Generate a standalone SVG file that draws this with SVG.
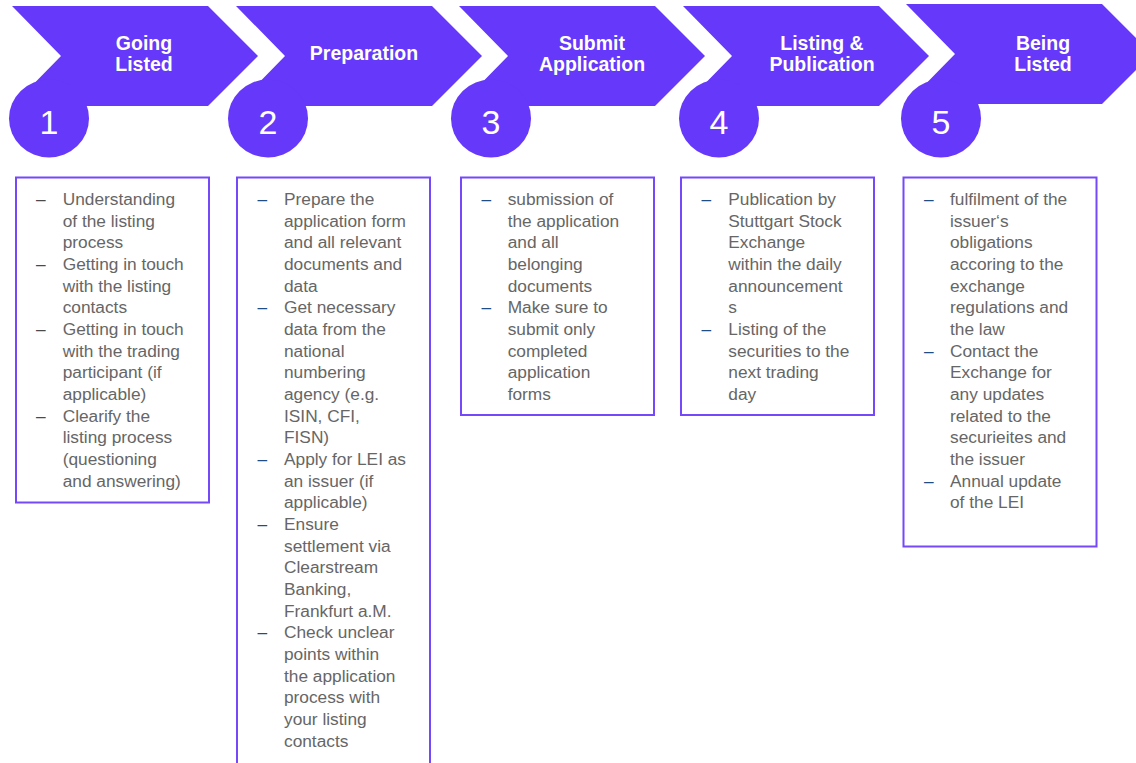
<svg xmlns="http://www.w3.org/2000/svg" width="1136" height="763" viewBox="0 0 1136 763">
<style>
.chev{fill:#6538FA}
.circ{fill:#6538FA}
.ttl{font-family:"Liberation Sans",Arial,sans-serif;font-weight:bold;font-size:19.5px;fill:#ffffff;text-anchor:middle}
.num{font-family:"Liberation Sans",Arial,sans-serif;font-size:34px;fill:#ffffff;text-anchor:middle}
.box{fill:#ffffff;stroke:#7549FA;stroke-width:2}
.txt{font-family:"Liberation Sans",Arial,sans-serif;font-size:17.3px;fill:#666666}
.dash{font-family:"Liberation Sans",Arial,sans-serif;font-size:17.3px;fill:#1F4E85}
.dash1{font-family:"Liberation Sans",Arial,sans-serif;font-size:17.3px;fill:#4a4a4a}
</style>
<rect width="1136" height="763" fill="#ffffff"/>
<g id="connectors"></g>

<g id="step1">
<polygon class="chev" points="12,6 208,6 258,56 208,106 12,106 61,56"/>
<ellipse class="circ" cx="49" cy="118.5" rx="40" ry="39"/>
<text class="num" x="49" y="133.5">1</text>
<text class="ttl" x="144" y="50">Going</text>
<text class="ttl" x="144" y="71">Listed</text>
</g>
<g id="step2">
<polygon class="chev" points="236,6 432,6 482,56 432,106 236,106 285,56"/>
<ellipse class="circ" cx="268" cy="118.5" rx="40" ry="39"/>
<text class="num" x="268" y="133.5">2</text>
<text class="ttl" x="364" y="60">Preparation</text>
</g>
<g id="step3">
<polygon class="chev" points="459,6 655,6 705,56 655,106 459,106 508,56"/>
<ellipse class="circ" cx="491" cy="118.5" rx="40" ry="39"/>
<text class="num" x="491" y="133.5">3</text>
<text class="ttl" x="592" y="50">Submit</text>
<text class="ttl" x="592" y="71">Application</text>
</g>
<g id="step4">
<polygon class="chev" points="683,6 879,6 929,56 879,106 683,106 732,56"/>
<ellipse class="circ" cx="719" cy="118.5" rx="40" ry="39"/>
<text class="num" x="719" y="133.5">4</text>
<text class="ttl" x="822" y="50">Listing &amp;</text>
<text class="ttl" x="822" y="71">Publication</text>
</g>
<g id="step5">
<polygon class="chev" points="906,4 1102,4 1152,54 1102,104 906,104 955,54"/>
<ellipse class="circ" cx="941" cy="118.5" rx="40" ry="39"/>
<text class="num" x="941" y="133.5">5</text>
<text class="ttl" x="1043" y="50">Being</text>
<text class="ttl" x="1043" y="71">Listed</text>
</g>

<g id="box1">
<rect class="box" x="16" y="177.5" width="193" height="325"/>
<text class="dash1" x="36" y="205">–</text>
<text class="dash1" x="36" y="270">–</text>
<text class="dash1" x="36" y="335">–</text>
<text class="dash1" x="36" y="421.7">–</text>
<text class="txt" x="62.7" y="205">Understanding</text>
<text class="txt" x="62.7" y="226.7">of the listing</text>
<text class="txt" x="62.7" y="248.3">process</text>
<text class="txt" x="62.7" y="270">Getting in touch</text>
<text class="txt" x="62.7" y="291.7">with the listing</text>
<text class="txt" x="62.7" y="313.3">contacts</text>
<text class="txt" x="62.7" y="335">Getting in touch</text>
<text class="txt" x="62.7" y="356.7">with the trading</text>
<text class="txt" x="62.7" y="378.3">participant (if</text>
<text class="txt" x="62.7" y="400">applicable)</text>
<text class="txt" x="62.7" y="421.7">Clearify the</text>
<text class="txt" x="62.7" y="443.3">listing process</text>
<text class="txt" x="62.7" y="465">(questioning</text>
<text class="txt" x="62.7" y="486.7">and answering)</text>
</g>

<g id="box2">
<rect class="box" x="237" y="177.5" width="193" height="600"/>
<text class="dash" x="257.5" y="205">–</text>
<text class="dash" x="257.5" y="313.3">–</text>
<text class="dash" x="257.5" y="465">–</text>
<text class="dash" x="257.5" y="530">–</text>
<text class="dash" x="257.5" y="638.3">–</text>
<text class="txt" x="284" y="205">Prepare the</text>
<text class="txt" x="284" y="226.7">application form</text>
<text class="txt" x="284" y="248.3">and all relevant</text>
<text class="txt" x="284" y="270">documents and</text>
<text class="txt" x="284" y="291.7">data</text>
<text class="txt" x="284" y="313.3">Get necessary</text>
<text class="txt" x="284" y="335">data from the</text>
<text class="txt" x="284" y="356.7">national</text>
<text class="txt" x="284" y="378.3">numbering</text>
<text class="txt" x="284" y="400">agency (e.g.</text>
<text class="txt" x="284" y="421.7">ISIN, CFI,</text>
<text class="txt" x="284" y="443.3">FISN)</text>
<text class="txt" x="284" y="465">Apply for LEI as</text>
<text class="txt" x="284" y="486.7">an issuer (if</text>
<text class="txt" x="284" y="508.3">applicable)</text>
<text class="txt" x="284" y="530">Ensure</text>
<text class="txt" x="284" y="551.7">settlement via</text>
<text class="txt" x="284" y="573.3">Clearstream</text>
<text class="txt" x="284" y="595">Banking,</text>
<text class="txt" x="284" y="616.7">Frankfurt a.M.</text>
<text class="txt" x="284" y="638.3">Check unclear</text>
<text class="txt" x="284" y="660">points within</text>
<text class="txt" x="284" y="681.7">the application</text>
<text class="txt" x="284" y="703.3">process with</text>
<text class="txt" x="284" y="725">your listing</text>
<text class="txt" x="284" y="746.7">contacts</text>
</g>

<g id="box3">
<rect class="box" x="461" y="177.5" width="193" height="237.5"/>
<text class="dash" x="481.5" y="205">–</text>
<text class="dash" x="481.5" y="313.3">–</text>
<text class="txt" x="507.7" y="205">submission of</text>
<text class="txt" x="507.7" y="226.7">the application</text>
<text class="txt" x="507.7" y="248.3">and all</text>
<text class="txt" x="507.7" y="270">belonging</text>
<text class="txt" x="507.7" y="291.7">documents</text>
<text class="txt" x="507.7" y="313.3">Make sure to</text>
<text class="txt" x="507.7" y="335">submit only</text>
<text class="txt" x="507.7" y="356.7">completed</text>
<text class="txt" x="507.7" y="378.3">application</text>
<text class="txt" x="507.7" y="400">forms</text>
</g>

<g id="box4">
<rect class="box" x="681" y="177.5" width="193" height="237.5"/>
<text class="dash" x="701.5" y="205">–</text>
<text class="dash" x="701.5" y="335">–</text>
<text class="txt" x="728.3" y="205">Publication by</text>
<text class="txt" x="728.3" y="226.7">Stuttgart Stock</text>
<text class="txt" x="728.3" y="248.3">Exchange</text>
<text class="txt" x="728.3" y="270">within the daily</text>
<text class="txt" x="728.3" y="291.7">announcement</text>
<text class="txt" x="728.3" y="313.3">s</text>
<text class="txt" x="728.3" y="335">Listing of the</text>
<text class="txt" x="728.3" y="356.7">securities to the</text>
<text class="txt" x="728.3" y="378.3">next trading</text>
<text class="txt" x="728.3" y="400">day</text>
</g>

<g id="box5">
<rect class="box" x="903.5" y="177.5" width="193" height="369"/>
<text class="dash" x="924" y="205">–</text>
<text class="dash" x="924" y="356.7">–</text>
<text class="dash" x="924" y="486.7">–</text>
<text class="txt" x="950" y="205">fulfilment of the</text>
<text class="txt" x="950" y="226.7">issuer‘s</text>
<text class="txt" x="950" y="248.3">obligations</text>
<text class="txt" x="950" y="270">accoring to the</text>
<text class="txt" x="950" y="291.7">exchange</text>
<text class="txt" x="950" y="313.3">regulations and</text>
<text class="txt" x="950" y="335">the law</text>
<text class="txt" x="950" y="356.7">Contact the</text>
<text class="txt" x="950" y="378.3">Exchange for</text>
<text class="txt" x="950" y="400">any updates</text>
<text class="txt" x="950" y="421.7">related to the</text>
<text class="txt" x="950" y="443.3">securieites and</text>
<text class="txt" x="950" y="465">the issuer</text>
<text class="txt" x="950" y="486.7">Annual update</text>
<text class="txt" x="950" y="508.3">of the LEI</text>
</g>
</svg>
